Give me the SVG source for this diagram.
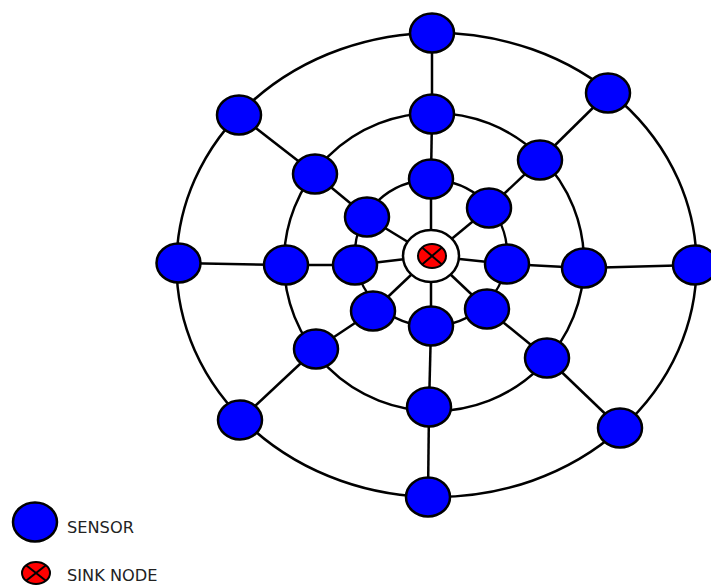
<svg xmlns="http://www.w3.org/2000/svg" width="711" height="585" viewBox="0 0 711 585">
<style>
.ring{fill:none;stroke:#000;stroke-width:2.5}
.c line{stroke:#000;stroke-width:2.5}
.s{fill:#0000ff;stroke:#000;stroke-width:2.5}
.k{fill:#ff0000;stroke:#000;stroke-width:2}
.x{stroke:#000;stroke-width:2}
.t{font-family:"DejaVu Sans",Verdana,sans-serif;font-size:16.2px;fill:#222}
</style>
<rect width="711" height="585" fill="#fff"/>
<g id="rings">
<ellipse class="ring" cx="436.5" cy="265" rx="260" ry="232"/>
<ellipse class="ring" cx="434" cy="262" rx="150" ry="149"/>
<ellipse class="ring" cx="431" cy="253" rx="76" ry="73"/>
</g>
<g class="c" id="connectors">
<line x1="432" y1="33" x2="432" y2="114"/><line x1="432" y1="114" x2="431" y2="179"/><line x1="431" y1="179" x2="431" y2="256"/>
<line x1="608" y1="93" x2="540" y2="160"/><line x1="540" y1="160" x2="489" y2="208"/><line x1="489" y1="208" x2="431" y2="256"/>
<line x1="695" y1="265" x2="584" y2="268"/><line x1="584" y1="268" x2="507" y2="264"/><line x1="507" y1="264" x2="431" y2="256"/>
<line x1="620" y1="428" x2="547" y2="358"/><line x1="547" y1="358" x2="487" y2="309"/><line x1="487" y1="309" x2="431" y2="256"/>
<line x1="428" y1="497" x2="429" y2="407"/><line x1="429" y1="407" x2="431" y2="326"/><line x1="431" y1="326" x2="431" y2="256"/>
<line x1="240" y1="420" x2="316" y2="349"/><line x1="316" y1="349" x2="373" y2="311"/><line x1="373" y1="311" x2="431" y2="256"/>
<line x1="178" y1="263" x2="286" y2="265"/><line x1="286" y1="265" x2="355" y2="265"/><line x1="355" y1="265" x2="431" y2="256"/>
<line x1="239" y1="115" x2="315" y2="174"/><line x1="315" y1="174" x2="367" y2="217"/><line x1="367" y1="217" x2="431" y2="256"/>
</g>
<g id="hub"><ellipse cx="431" cy="256" rx="28" ry="26" fill="#fff" stroke="#000" stroke-width="2.5"/></g>
<g id="sink">
<ellipse class="k" cx="432" cy="256" rx="14" ry="12"/>
<line class="x" x1="422.1" y1="247.5" x2="441.9" y2="264.5"/><line class="x" x1="441.9" y1="247.5" x2="422.1" y2="264.5"/>
</g>
<g id="o1"><ellipse class="s" cx="432" cy="33" rx="22" ry="19.5"/></g>
<g id="o2"><ellipse class="s" cx="608" cy="93" rx="22" ry="19.5"/></g>
<g id="o3"><ellipse class="s" cx="695" cy="265" rx="22" ry="19.5"/></g>
<g id="o4"><ellipse class="s" cx="620" cy="428" rx="22" ry="19.5"/></g>
<g id="o5"><ellipse class="s" cx="428" cy="497" rx="22" ry="19.5"/></g>
<g id="o6"><ellipse class="s" cx="240" cy="420" rx="22" ry="19.5"/></g>
<g id="o7"><ellipse class="s" cx="178.5" cy="263" rx="22" ry="19.5"/></g>
<g id="o8"><ellipse class="s" cx="239" cy="115" rx="22" ry="19.5"/></g>
<g id="m1"><ellipse class="s" cx="432" cy="114" rx="22" ry="19.5"/></g>
<g id="m2"><ellipse class="s" cx="540" cy="160" rx="22" ry="19.5"/></g>
<g id="m3"><ellipse class="s" cx="584" cy="268" rx="22" ry="19.5"/></g>
<g id="m4"><ellipse class="s" cx="547" cy="358" rx="22" ry="19.5"/></g>
<g id="m5"><ellipse class="s" cx="429" cy="407" rx="22" ry="19.5"/></g>
<g id="m6"><ellipse class="s" cx="316" cy="349" rx="22" ry="19.5"/></g>
<g id="m7"><ellipse class="s" cx="286" cy="265" rx="22" ry="19.5"/></g>
<g id="m8"><ellipse class="s" cx="315" cy="174" rx="22" ry="19.5"/></g>
<g id="i1"><ellipse class="s" cx="431" cy="179" rx="22" ry="19.5"/></g>
<g id="i2"><ellipse class="s" cx="489" cy="208" rx="22" ry="19.5"/></g>
<g id="i3"><ellipse class="s" cx="507" cy="264" rx="22" ry="19.5"/></g>
<g id="i4"><ellipse class="s" cx="487" cy="309" rx="22" ry="19.5"/></g>
<g id="i5"><ellipse class="s" cx="431" cy="326" rx="22" ry="19.5"/></g>
<g id="i6"><ellipse class="s" cx="373" cy="311" rx="22" ry="19.5"/></g>
<g id="i7"><ellipse class="s" cx="355" cy="265" rx="22" ry="19.5"/></g>
<g id="i8"><ellipse class="s" cx="367" cy="217" rx="22" ry="19.5"/></g>
<g id="legend-sensor">
<ellipse class="s" cx="35" cy="522" rx="22" ry="19.5"/>
<text class="t" x="67" y="533">SENSOR</text>
</g>
<g id="legend-sink">
<ellipse class="k" cx="36" cy="573" rx="14" ry="11"/>
<line class="x" x1="26.1" y1="565.2" x2="45.9" y2="580.8"/><line class="x" x1="45.9" y1="565.2" x2="26.1" y2="580.8"/>
<text class="t" x="67" y="581">SINK NODE</text>
</g>
</svg>
